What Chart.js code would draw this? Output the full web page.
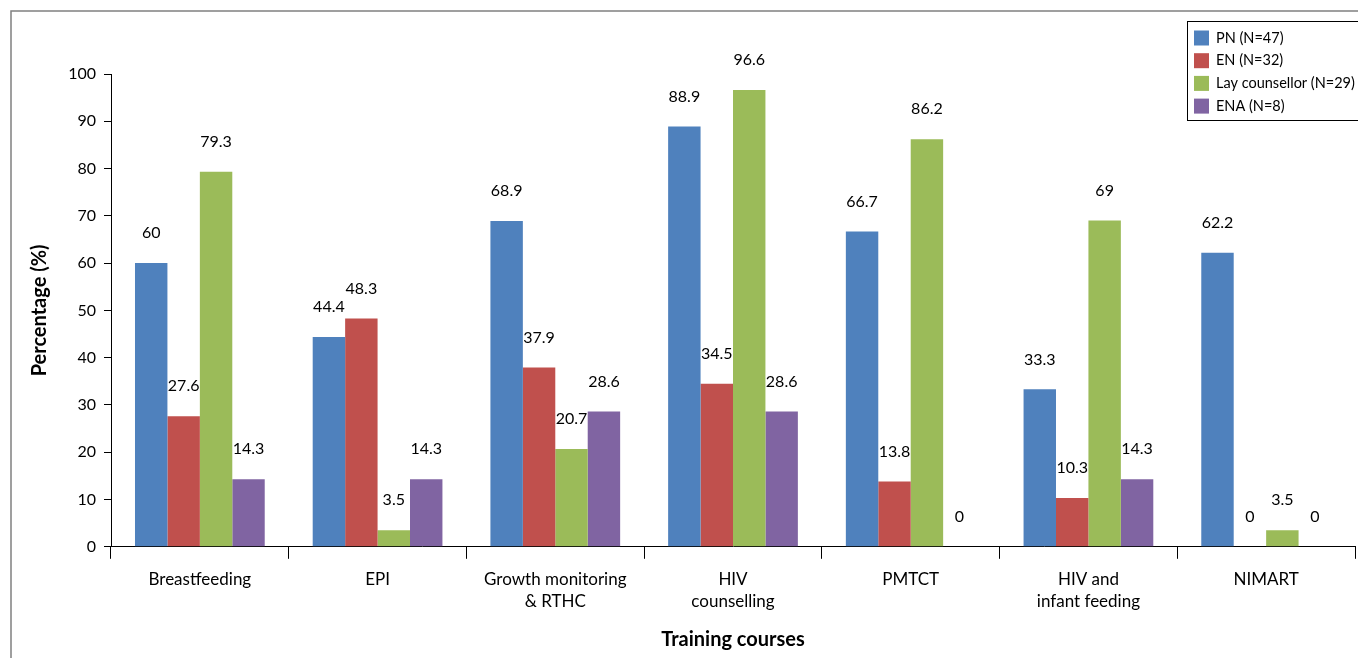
<!DOCTYPE html>
<html>
<head>
  <script src="https://cdn.jsdelivr.net/npm/chart.js"></script>
  <style>
    body { margin: 0; background: #fff; }
  </style>
</head>
<body>
  <canvas id="barChart" width="1358" height="658"></canvas>

  <script>
    const courses = [
      'Breastfeeding',
      'EPI',
      ['Growth monitoring', '& RTHC'],
      ['HIV', 'counselling'],
      'PMTCT',
      ['HIV and', 'infant feeding'],
      'NIMART'
    ];

    const seriesNames = ['PN (N=47)', 'EN (N=32)', 'Lay counsellor (N=29)', 'ENA (N=8)'];
    const pnValues = [60, 44.4, 68.9, 88.9, 66.7, 33.3, 62.2];
    const enValues = [27.6, 48.3, 37.9, 34.5, 13.8, 10.3, 0];
    const layValues = [79.3, 3.5, 20.7, 96.6, 86.2, 69, 3.5];
    const enaValues = [14.3, 14.3, 28.6, 28.6, 0, 14.3, 0];
    const yTicks = [0, 10, 20, 30, 40, 50, 60, 70, 80, 90, 100];

    const colors = ['#4F81BD', '#C0504D', '#9BBB59', '#8064A2'];
    const font = 'Lato, "Open Sans", sans-serif';

    const datasets = [pnValues, enValues, layValues, enaValues].map((vals, i) => ({
      label: seriesNames[i],
      data: vals,
      backgroundColor: colors[i],
      borderWidth: 0,
      categoryPercentage: 0.73,
      barPercentage: 1.0
    }));

    // frame around the figure
    const framePlugin = {
      id: 'frame',
      beforeDraw(chart) {
        const c = chart.ctx;
        c.save();
        c.strokeStyle = '#808080';
        c.lineWidth = 1.5;
        c.strokeRect(11, 11, 1400, 700);
        c.restore();
      }
    };

    // value labels over the bars
    const valueLabels = {
      id: 'valueLabels',
      afterDatasetsDraw(chart) {
        const c = chart.ctx;
        c.save();
        c.font = '16px ' + font;
        c.fillStyle = '#000';
        c.textAlign = 'center';
        c.textBaseline = 'middle';
        chart.data.datasets.forEach((ds, i) => {
          chart.getDatasetMeta(i).data.forEach((bar, j) => {
            c.fillText(String(ds.data[j]), bar.x, bar.y - 30);
          });
        });
        c.restore();
      }
    };

    // legend box in the top right corner
    const legendBox = {
      id: 'legendBox',
      afterDraw(chart) {
        const c = chart.ctx;
        c.save();
        c.strokeStyle = '#000';
        c.lineWidth = 1;
        c.strokeRect(1187.5, 21.5, 200, 99);
        c.font = '14.5px ' + font;
        c.textBaseline = 'middle';
        c.textAlign = 'left';
        chart.data.datasets.forEach((ds, i) => {
          const y = 38 + i * 22.7;
          c.fillStyle = ds.backgroundColor;
          c.fillRect(1194, y - 7.5, 15, 15);
          c.fillStyle = '#000';
          c.fillText(ds.label, 1216, y);
        });
        c.restore();
      }
    };

    const ctx = document.getElementById('barChart').getContext('2d');
    const chart = new Chart(ctx, {
      type: 'bar',
      data: { labels: courses, datasets: datasets },
      plugins: [framePlugin, valueLabels, legendBox],
      options: {
        responsive: false,
        animation: false,
        devicePixelRatio: 1,
        layout: { padding: { top: 74, right: 3, bottom: 6, left: 0 } },
        scales: {
          x: {
            grid: {
              offset: true,
              drawOnChartArea: false,
              tickLength: 12,
              color: '#000',
              lineWidth: 1
            },
            border: { color: '#000', width: 1 },
            ticks: {
              color: '#000',
              padding: 10,
              maxRotation: 0,
              autoSkip: false,
              font: { family: font, size: 17, lineHeight: 1.3 }
            },
            title: {
              display: true,
              text: 'Training courses',
              color: '#000',
              padding: { top: 5, bottom: 0 },
              font: { family: font, size: 20, weight: 'bold' }
            }
          },
          y: {
            min: 0,
            max: 100,
            afterFit(scale) { scale.width = 111; },
            afterBuildTicks(scale) { scale.ticks = yTicks.map(v => ({ value: v })); },
            grid: {
              drawOnChartArea: false,
              tickLength: 7,
              color: '#000',
              lineWidth: 1
            },
            border: { color: '#000', width: 1 },
            ticks: {
              color: '#000',
              padding: 8,
              font: { family: font, size: 16 }
            },
            title: {
              display: true,
              text: 'Percentage (%)',
              color: '#000',
              padding: { top: 28, bottom: 0 },
              font: { family: font, size: 20, weight: 'bold' }
            }
          }
        },
        plugins: {
          legend: { display: false },
          tooltip: { enabled: false }
        }
      }
    });
  </script>
</body>
</html>
